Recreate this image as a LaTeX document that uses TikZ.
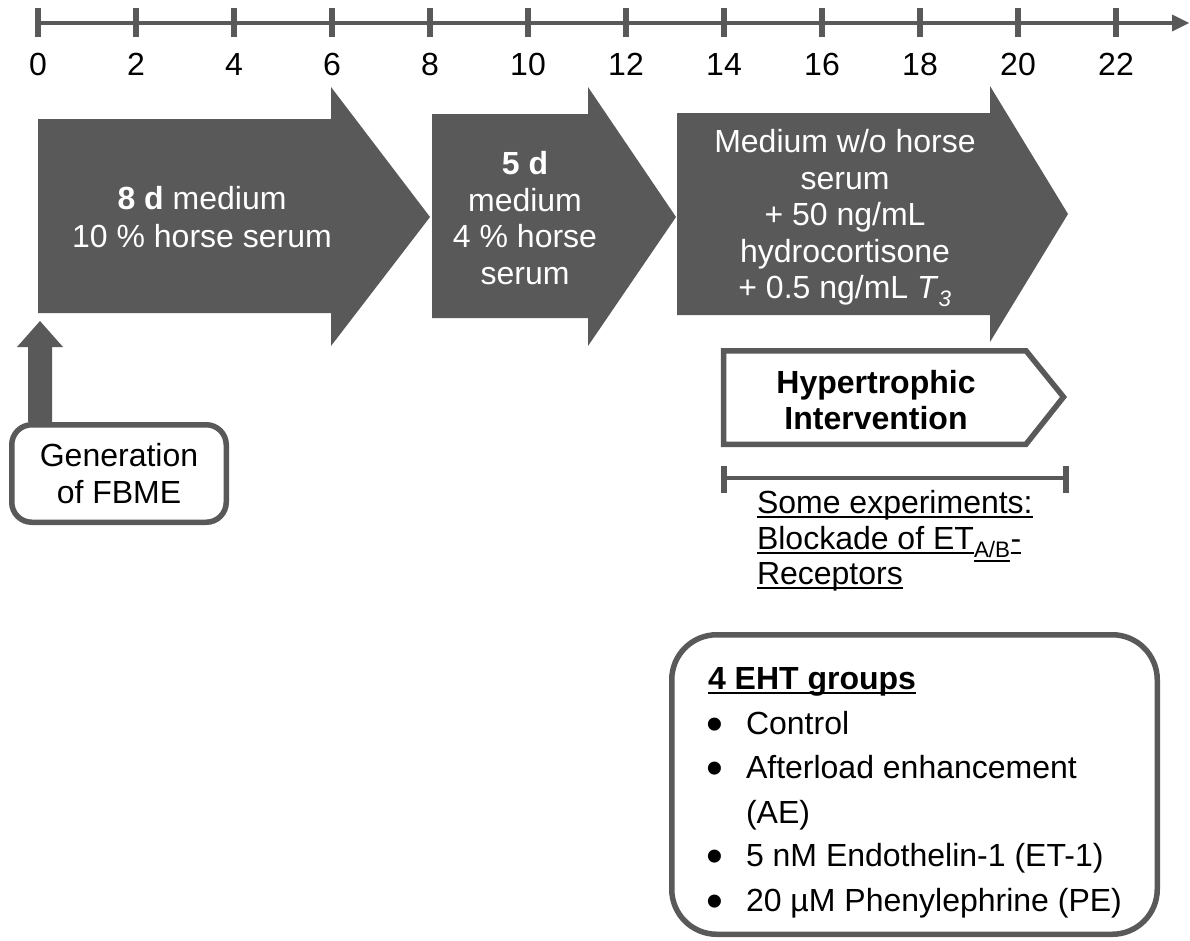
\documentclass[tikz,border=0pt]{standalone}
\usepackage{fontspec}
\setmainfont{Liberation Sans}
\usetikzlibrary{calc}
\definecolor{dg}{HTML}{595959}
\newcommand{\bigfont}{\fontsize{32}{38}\selectfont}
\newcommand{\bul}{\raisebox{-5.5pt}{\fontsize{48}{48}\selectfont\kern-2pt\textbullet}}
\newcommand{\itm}[1]{\makebox[38pt][l]{\bul}#1}
\newcommand{\myul}[1]{\setbox0\hbox{#1}\rlap{\rule[-4.5pt]{\wd0}{2pt}}\box0}
\begin{document}
\begin{tikzpicture}[x=1pt,y=-1pt,
  every node/.style={inner sep=0pt,outer sep=0pt},
  lbl/.style={font=\bigfont,anchor=base},
  line/.style={font=\bigfont,anchor=base west},
  axis/.style={draw=dg,line width=4.5pt},
  tickmark/.style={draw=dg,line width=6pt},
  chev/.style={fill=dg},
  chevtext/.style={text=white,align=center},
  framebox/.style={draw=dg,line width=5.5pt,fill=white}
]
\useasboundingbox (0,0) rectangle (1190,940);

% timeline
\coordinate (tlA) at (38,23);
\coordinate (tlB) at (1176,23);
\coordinate (tlTip) at (1189,23);
\draw[axis] (tlA) -- (tlB);
\fill[dg] (1172,14.5) -- (tlTip) -- (1172,31.5) -- cycle;
\foreach \i [evaluate=\i as \x using 38+98*\i, evaluate=\i as \d using int(2*\i)] in {0,...,11}{
  \draw[tickmark] (\x,8) -- (\x,37);
  \node[lbl] (d\i) at (\x,75) {\d};
}

% phase arrows
\fill[chev] (38,119) -- (331,119) -- (331,87) -- (430,217) -- (331,346) -- (331,313) -- (38,313) -- cycle;
\node[chevtext,font=\fontsize{32}{38}\selectfont] (a1) at (202,217.5) {\textbf{8 d} medium\\10 \% horse serum};

\fill[chev] (432,114) -- (588,114) -- (588,87) -- (676,217) -- (588,346) -- (588,318) -- (432,318) -- cycle;
\node[chevtext,font=\fontsize{32}{36.7}\selectfont] (a2) at (525,218) {\textbf{5 d}\\medium\\4 \% horse\\serum};

\fill[chev] (677,113) -- (990,113) -- (990,86) -- (1068,214) -- (990,342) -- (990,315) -- (677,315) -- cycle;
\node[chevtext,font=\fontsize{32}{36.5}\selectfont] (a3) at (845,218) {Medium w/o horse\\serum\\+ 50 ng/mL\\hydrocortisone\\+ 0.5 ng/mL \textit{T}\textsubscript{\textit{3}}};

% generation box and up arrow
\node[framebox,rounded corners=20pt,minimum width=214.5pt,minimum height=97.5pt,align=center,font=\fontsize{32}{37}\selectfont,outer sep=2.75pt] (gen) at (119,473.5) {Generation\\of FBME};
\coordinate (upbase) at (40,422);
\coordinate (uptip) at (40,321);
\fill[dg] (upbase) ++(-12,0) -- ++(0,-75) -- ++(-11,0) -- (uptip) -- ++(23,26) -- ++(-11,0) -- ++(0,75) -- cycle;

% hypertrophic intervention
\draw[framebox,line join=miter] (723.5,350.75) -- (1026,350.75) -- (1063.5,397) -- (1026,444.25) -- (723.5,444.25) -- cycle;
\node[align=center,font=\fontsize{32}{36}\selectfont\bfseries] (hyp) at (876,400) {Hypertrophic\\Intervention};

% bracket
\coordinate (brL) at (724,478);
\coordinate (brR) at (1066,478);
\draw[draw=dg,line width=4pt] (brL) -- (brR);
\draw[tickmark] ($(brL)+(0,-12)$) -- ($(brL)+(0,15)$);
\draw[tickmark] ($(brR)+(0,-12)$) -- ($(brR)+(0,15)$);
\node[line] (s1) at (757,513.5) {\myul{Some experiments:}};
\node[line] (s2) at (757,549.5) {\myul{Blockade of ET}\textsubscript{\myul{A/B}}\myul{-}};
\node[line] (s3) at (757,584.5) {\myul{Receptors}};

% groups box
\node[framebox,rounded corners=45pt,minimum width=485.5pt,minimum height=299.5pt] (groups) at (914.5,784.5) {};
\node[line] (g0) at (708,689.5) {\textbf{\myul{4 EHT groups}}};
\node[line] (g1) at (708,734.5) {\itm{Control}};
\node[line] (g2) at (708,778.5) {\itm{Afterload enhancement}};
\node[line] (g3) at (708,823.5) {\hspace*{38pt}(AE)};
\node[line] (g4) at (708,866.5) {\itm{5 nM Endothelin-1 (ET-1)}};
\node[line] (g5) at (708,911.5) {\itm{20 µM Phenylephrine (PE)}};
\end{tikzpicture}
\end{document}
